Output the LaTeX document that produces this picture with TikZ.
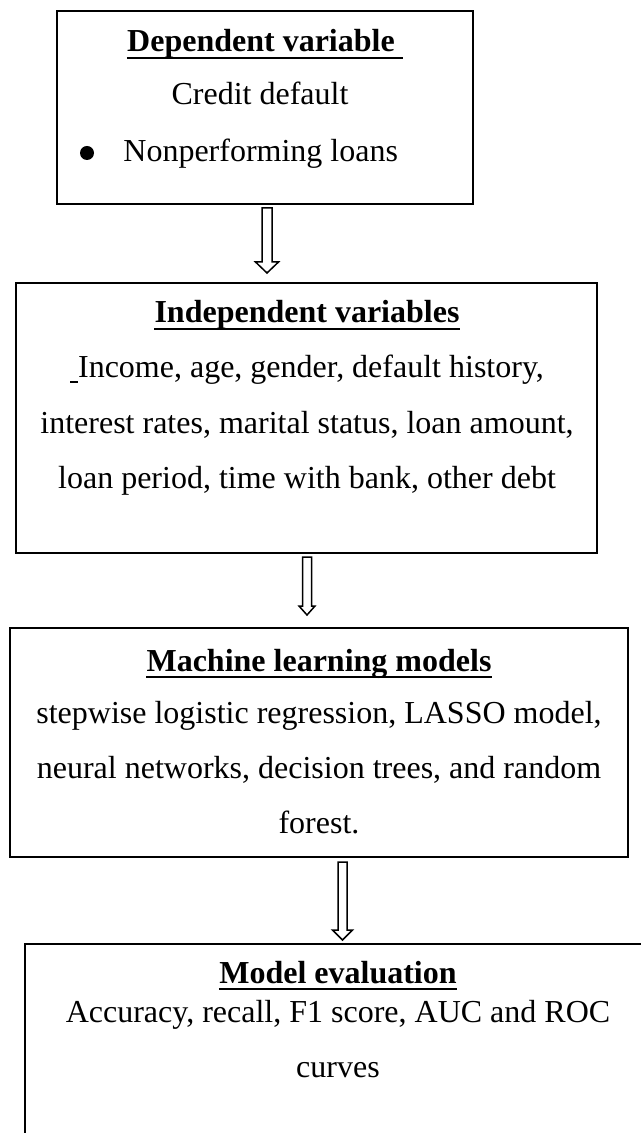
\documentclass[tikz,border=0pt]{standalone}
\usepackage{fontspec}
\setmainfont{Liberation Serif}
\usetikzlibrary{calc}
\newcommand\hollowarrow[5]{%
  \draw[harrow] ($(#1)+(-#3,0)$) -- ($(#1)+(#3,0)$) -- ($(#2)+(#3,-#5)$) -- ($(#2)+(#4,-#5)$) -- (#2) -- ($(#2)+(-#4,-#5)$) -- ($(#2)+(-#3,-#5)$) -- cycle;}
\begin{document}
\begin{tikzpicture}[x=0.5pt,y=-0.5pt,
  box/.style={draw,line width=1pt,inner sep=0pt},
  txt/.style={inner sep=0pt,anchor=base,font=\fontsize{16}{19}\selectfont},
  ttl/.style={inner sep=0pt,anchor=base,font=\fontsize{16}{19}\selectfont\bfseries},
  ul/.style={line width=1.3pt},
  harrow/.style={draw,line width=0.75pt,line join=miter}]
\clip (0,0) rectangle (641,1133);
\fill[white] (0,0) rectangle (641,1133);

% Box 1
\node[box,minimum width=208pt,minimum height=96.5pt] (b1) at (265,107.5) {};
\node[ttl] (t1) at (265,52) {Dependent variable\kern0.25em};
\draw[ul] ([yshift=-3pt]t1.base west) -- ([yshift=-3pt]t1.base east);
\node[txt] (l11) at (260,105) {Credit default};
\node[circle,fill,inner sep=0pt,minimum size=7pt] (bul) at (87,153) {};
\node[txt,anchor=base west] (l12) at (123,162) {Nonperforming loans};

% Arrow 1
\coordinate (a1s) at (267,208);
\coordinate (a1e) at (267,273);
\hollowarrow{a1s}{a1e}{5}{11.5}{11}

% Box 2
\node[box,minimum width=290.5pt,minimum height=135pt] (b2) at (306.5,418) {};
\node[ttl] (t2) at (307,323) {Independent variables};
\draw[ul] ([yshift=-3pt]t2.base west) -- ([yshift=-3pt]t2.base east);
\node[txt] (l21) at (307,378) {\rule[-2.5pt]{4pt}{1pt}Income, age, gender, default history,};
\node[txt] (l22) at (307,433) {interest rates, marital status, loan amount,};
\node[txt] (l23) at (307,488) {loan period, time with bank, other debt};

% Arrow 2
\coordinate (a2s) at (307,557);
\coordinate (a2e) at (307,615);
\hollowarrow{a2s}{a2e}{4.5}{8}{9}

% Box 3
\node[box,minimum width=309pt,minimum height=114.5pt] (b3) at (319,742.5) {};
\node[ttl] (t3) at (319,671) {Machine learning models};
\draw[ul] ([yshift=-3pt]t3.base west) -- ([yshift=-3pt]t3.base east);
\node[txt] (l31) at (319,723) {stepwise logistic regression, LASSO model,};
\node[txt] (l32) at (319,778) {neural networks, decision trees, and random};
\node[txt] (l33) at (319,833) {forest.};

% Arrow 3
\coordinate (a3s) at (342.5,862);
\coordinate (a3e) at (342.5,940);
\hollowarrow{a3s}{a3e}{4.5}{10}{10}

% Box 4
\node[box,minimum width=313pt,minimum height=108pt] (b4) at (338,1052) {};
\node[ttl] (t4) at (338,983) {Model evaluation};
\draw[ul] ([yshift=-3pt]t4.base west) -- ([yshift=-3pt]t4.base east);
\node[txt] (l41) at (338,1022) {Accuracy, recall, F1 score, AUC and ROC};
\node[txt] (l42) at (338,1077) {curves};
\end{tikzpicture}
\end{document}
